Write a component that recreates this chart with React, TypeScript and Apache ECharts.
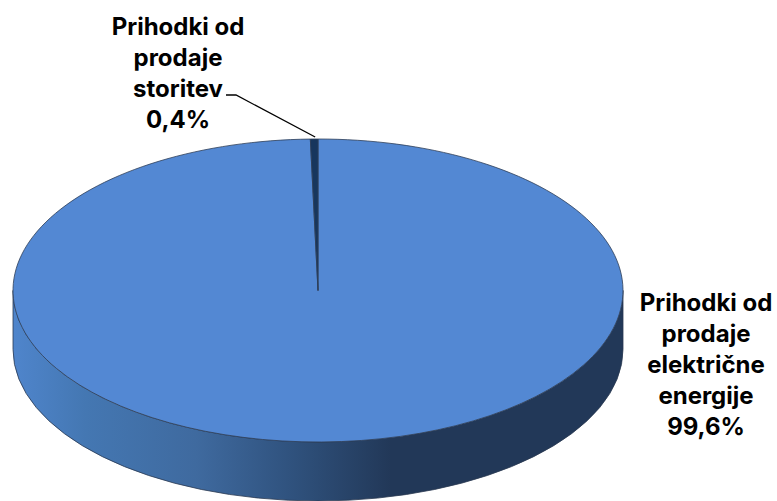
import React, { useEffect, useRef } from "react";
import * as echarts from "echarts";

const names = ["Prihodki od\nprodaje\nelektrične\nenergije", "Prihodki od\nprodaje\nstoritev"];
const values = [99.6, 0.4];
const valueLabels = ["99,6%", "0,4%"];
const sliceColors = ["#5388D3", "#17365D"];

const CX = 318, CY = 290.5, RX = 305, RY = 151.5, DEPTH = 59;
const FONT = "Inter";
const labelPos = [{ x: 706, y: 364 }, { x: 178, y: 73 }];

const total = values.reduce((a, b) => a + b, 0);
const pt = (deg: number, dy = 0): [number, number] => {
  const t = (deg * Math.PI) / 180;
  return [CX + RX * Math.sin(t), CY - RY * Math.cos(t) + dy];
};

const sideGradient = {
  type: "linear", global: true, x: CX - RX, y: 0, x2: CX + RX, y2: 0,
  colorStops: [
    { offset: 0, color: "#4F85CC" },
    { offset: 0.12, color: "#4477B2" },
    { offset: 0.3, color: "#3F6A9F" },
    { offset: 0.45, color: "#30537F" },
    { offset: 0.62, color: "#223858" },
    { offset: 1, color: "#223858" },
  ],
};

function renderItem(params: any, api: any) {
  const i = params.dataIndex;
  const before = values.slice(0, i).reduce((a, b) => a + b, 0);
  const a0 = (before / total) * 360;
  const a1 = a0 + (api.value(0) / total) * 360;
  const children: any[] = [];
  const sA = Math.max(a0, 90), sB = Math.min(a1, 270);
  if (sB > sA) {
    const [x0, y0] = pt(sA), [x1, y1] = pt(sB);
    children.push({
      type: "path",
      shape: { pathData: `M${x0} ${y0}A${RX} ${RY} 0 0 1 ${x1} ${y1}L${x1} ${y1 + DEPTH}A${RX} ${RY} 0 0 0 ${x0} ${y0 + DEPTH}Z` },
      style: { fill: sideGradient, stroke: "#2A3850", lineWidth: 0.8 },
    });
  }
  const [sx, sy] = pt(a0), [ex, ey] = pt(a1);
  children.push({
    type: "path",
    shape: { pathData: `M${CX} ${CY}L${sx} ${sy}A${RX} ${RY} 0 ${a1 - a0 > 180 ? 1 : 0} 1 ${ex} ${ey}Z` },
    style: { fill: sliceColors[i], stroke: "#2F3F58", lineWidth: 0.8 },
  });
  const mid = pt((a0 + a1) / 2);
  if (i === 1) {
    children.push({
      type: "polyline",
      shape: { points: [[226, 95], [236, 95], [mid[0] + 1, mid[1] - 2]] },
      style: { fill: "none", stroke: "#000000", lineWidth: 1.3 },
    });
  }
  children.push({
    type: "text",
    style: {
      x: labelPos[i].x, y: labelPos[i].y,
      text: `${names[i]}\n${valueLabels[i]}`,
      fill: "#000000",
      font: `700 24px ${FONT}`,
      lineHeight: 31,
      align: "center", verticalAlign: "middle",
    },
  });
  return { type: "group", children };
}

export default function App() {
  const ref = useRef<HTMLDivElement>(null);
  useEffect(() => {
    const chart = echarts.init(ref.current!, null, { renderer: "svg" });
    chart.setOption({
      animation: false,
      series: [{
        type: "custom",
        coordinateSystem: "none",
        renderItem,
        data: values.map((v, i) => ({ name: names[i], value: [v] })),
      }],
    });
    return () => chart.dispose();
  }, []);
  return <div ref={ref} style={{ position: "absolute", left: 0, top: 0, width: 777, height: 501 }} />;
}
